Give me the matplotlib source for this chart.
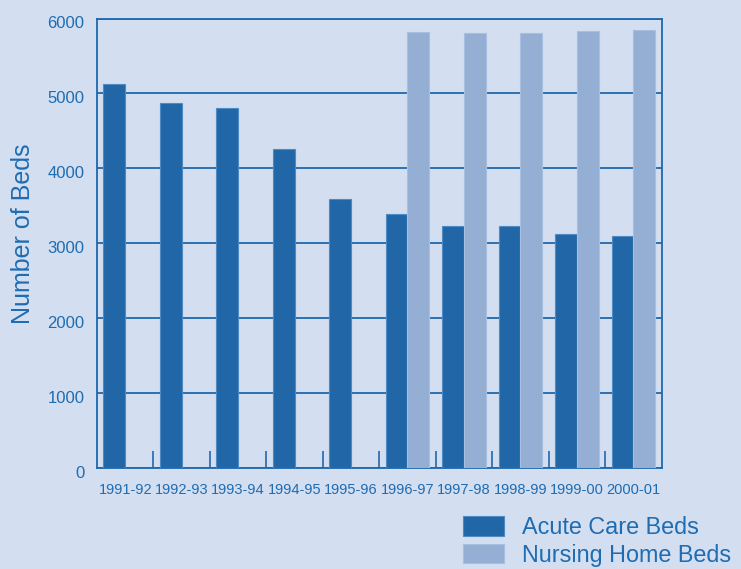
import matplotlib
matplotlib.use("Agg")
import matplotlib.pyplot as plt
import matplotlib.transforms as mtransforms
from matplotlib.patches import Patch
import numpy as np

# Hospital bed counts by financial year
years = ["1991-92", "1992-93", "1993-94", "1994-95", "1995-96",
         "1996-97", "1997-98", "1998-99", "1999-00", "2000-01"]
acute_beds = [5130, 4876, 4804, 4262, 3591, 3385, 3227, 3236, 3129, 3102]
nursing_beds = [np.nan, np.nan, np.nan, np.nan, np.nan, 5822, 5804, 5809, 5827, 5853]
y_ticks = [0, 1000, 2000, 3000, 4000, 5000, 6000]
series_names = ["Acute Care Beds", "Nursing Home Beds"]

bg = "#D3DEF0"
line_col = "#1F68AE"
text_col = "#1E6CB2"
acute_col = "#2166A6"
nursing_col = "#94AED4"

plt.rcParams["font.family"] = ["Liberation Sans", "DejaVu Sans"]

fig = plt.figure(figsize=(7.41, 5.69), dpi=100, facecolor=bg)
ax = fig.add_axes([97 / 741, 1 - 468 / 569, (661.5 - 97) / 741, (468 - 18.5) / 569])
ax.set_facecolor(bg)

x = np.arange(len(years))
w = 0.385
ax.bar(x - w / 2, acute_beds, width=w, color=acute_col,
       edgecolor="#4E8BC4", linewidth=0.8, zorder=3)
ax.bar(x + w / 2, nursing_beds, width=w, color=nursing_col,
       edgecolor="#A9BFE0", linewidth=0.8, zorder=3)

ax.set_xlim(-0.5, len(years) - 0.5)
ax.set_ylim(0, 6000)
ax.set_yticks(y_ticks)
ax.set_yticklabels([str(v) for v in y_ticks])
ax.yaxis.grid(True, color=line_col, linewidth=1.3, zorder=1)
ax.set_axisbelow(True)

ax.set_xticks(x)
ax.set_xticklabels(years)
ax.set_xticks(np.arange(0.5, len(years) - 1, 1.0), minor=True)
ax.tick_params(axis="x", which="major", length=0, pad=11, labelsize=10.5,
               labelcolor=text_col)
ax.tick_params(axis="x", which="minor", direction="in", length=12,
               width=1.2, color=line_col)
ax.tick_params(axis="y", length=0, pad=9, labelsize=12, labelcolor=text_col)

# y tick labels sit slightly below their gridlines
shift = mtransforms.ScaledTranslation(0, -4 / 100, fig.dpi_scale_trans)
for lbl in ax.get_yticklabels():
    lbl.set_transform(lbl.get_transform() + shift)

for s in ax.spines.values():
    s.set_color(line_col)
    s.set_linewidth(1.3)

ax.set_ylabel("Number of Beds", fontsize=18, color=text_col)
ax.yaxis.set_label_coords((35 - 97) / 564.5, (569 - 233.5 - 101) / 449.5)

handles = [Patch(facecolor=acute_col, edgecolor="#4E8BC4", linewidth=0.8),
           Patch(facecolor=nursing_col, edgecolor="#A9BFE0", linewidth=0.8)]
fig.legend(handles, series_names, loc="upper left",
           bbox_to_anchor=(463 / 741, 1 - 516 / 569), frameon=False,
           fontsize=16.8, labelcolor=text_col, handlelength=1.74,
           handleheight=0.92, handletextpad=0.8, labelspacing=0.2,
           borderpad=0, borderaxespad=0)

fig.savefig("out.png", dpi=100, facecolor=bg)
